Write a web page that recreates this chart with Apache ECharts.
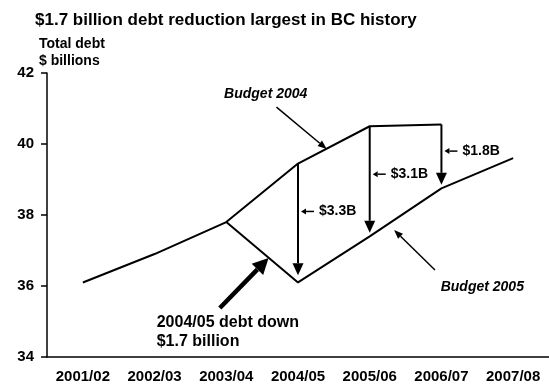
<!DOCTYPE html>
<html>
<head>
    <meta charset="utf-8">
    <title>BC debt</title>
    <script src="https://cdn.jsdelivr.net/npm/echarts@6/dist/echarts.min.js"></script>
    <style>
        html, body { margin: 0; padding: 0; background: #fff; }
        #chart1 { width: 549px; height: 384px; }
    </style>
</head>
<body>
<div id="chart1"></div>
<script type="text/javascript">
    // categories and the two budget forecasts ($ billions)
    var categories = ['2001/02', '2002/03', '2003/04', '2004/05', '2005/06', '2006/07', '2007/08'];
    var budget2005 = [36.1, 36.9, 37.8, 36.1, 37.4, 38.75, 39.6];
    var budget2004 = [null, null, 37.8, 39.45, 40.5, 40.55, null];

    // gaps between the forecasts
    var gapCats = [3, 4, 5];
    var gapLabels = ['$3.3B', '$3.1B', '$1.8B'];
    var gapArrowEnd = [36.3, 37.5, 38.85];
    var gapLabelAt = [38.1, 39.15, 39.8];

    // callouts, in (category index, value) units
    var calloutText = ['Budget 2004', 'Budget 2005', '2004/05 debt down\n$1.7 billion'];
    var calloutTextAt = [[2.55, 41.4], [5.57, 35.97], [1.03, 34.7]];
    var calloutFrom = [[2.70, 41.04], [4.91, 36.45], [1.91, 35.38]];
    var calloutTo = [[3.40, 39.86], [4.34, 37.58], [2.59, 36.79]];

    var FONT = '"Liberation Sans", Arial, sans-serif';

    // pixel point for a (possibly fractional) category index
    function pt(api, x, v) {
        var i = Math.min(Math.max(Math.floor(x), 0), categories.length - 2);
        var a = api.coord([i, v]), b = api.coord([i + 1, v]);
        return [a[0] + (b[0] - a[0]) * (x - i), a[1]];
    }

    function arrow(p0, p1, lw, head, hw) {
        var dx = p1[0] - p0[0], dy = p1[1] - p0[1];
        var len = Math.sqrt(dx * dx + dy * dy);
        var ux = dx / len, uy = dy / len;
        var bx = p1[0] - ux * head, by = p1[1] - uy * head;
        var nx = -uy, ny = ux;
        return [
            {type: 'line', shape: {x1: p0[0], y1: p0[1], x2: bx, y2: by},
                style: {stroke: '#000', lineWidth: lw}},
            {type: 'polygon', shape: {points: [[p1[0], p1[1]], [bx + nx * hw, by + ny * hw], [bx - nx * hw, by - ny * hw]]},
                style: {fill: '#000'}}
        ];
    }

    var myChart1 = echarts.init(document.getElementById('chart1'));
    myChart1.setOption({
        animation: false,
        backgroundColor: '#fff',
        title: [{
            text: '$1.7 billion debt reduction largest in BC history',
            left: 30, top: 7,
            textStyle: {fontFamily: FONT, fontSize: 17, fontWeight: 'bold', color: '#000'}
        }, {
            text: 'Total debt\n$ billions',
            left: 34, top: 31,
            textStyle: {fontFamily: FONT, fontSize: 14, fontWeight: 'bold', color: '#000', lineHeight: 17}
        }],
        grid: {left: 47, right: 0, top: 73, bottom: 27},
        xAxis: {
            type: 'category',
            data: categories,
            axisLine: {lineStyle: {color: '#000', width: 1.5}},
            axisTick: {show: false},
            axisLabel: {fontFamily: FONT, fontSize: 15, fontWeight: 'bold', color: '#000', margin: 12}
        },
        yAxis: {
            type: 'value',
            min: 34, max: 42, interval: 2,
            axisLine: {show: true, lineStyle: {color: '#000', width: 1.5}},
            axisTick: {show: true, length: 6, lineStyle: {color: '#000', width: 1.5}},
            splitLine: {show: false},
            axisLabel: {fontFamily: FONT, fontSize: 15, fontWeight: 'bold', color: '#000', margin: 13}
        },
        series: [{
            name: 'Budget 2005',
            type: 'line',
            data: budget2005,
            symbol: 'none',
            lineStyle: {color: '#000', width: 2}
        }, {
            name: 'Budget 2004',
            type: 'line',
            data: budget2004,
            symbol: 'none',
            lineStyle: {color: '#000', width: 2}
        }, {
            name: 'gaps',
            type: 'custom',
            data: gapCats.map(function (c, i) { return [c, budget2004[c], gapArrowEnd[i], gapLabelAt[i]]; }),
            encode: {x: 0, y: [1, 2, 3]},
            renderItem: function (params, api) {
                var c = api.value(0);
                var top = api.coord([c, api.value(1)]);
                var end = api.coord([c, api.value(2)]);
                var lab = api.coord([c, api.value(3)]);
                var kids = arrow(top, end, 2, 12, 5.5)
                    .concat(arrow([lab[0] + 16, lab[1]], [lab[0] + 3, lab[1]], 1.5, 5, 3));
                kids.push({
                    type: 'text',
                    style: {x: lab[0] + 21, y: lab[1], text: gapLabels[params.dataIndex],
                        fill: '#000', font: 'bold 14px ' + FONT, align: 'left', verticalAlign: 'middle'}
                });
                return {type: 'group', children: kids};
            }
        }, {
            name: 'callouts',
            type: 'custom',
            data: calloutText.map(function (t, i) { return [Math.round(calloutFrom[i][0]), calloutFrom[i][1]]; }),
            encode: {x: 0, y: 1},
            renderItem: function (params, api) {
                var i = params.dataIndex;
                var p0 = pt(api, calloutFrom[i][0], calloutFrom[i][1]);
                var p1 = pt(api, calloutTo[i][0], calloutTo[i][1]);
                var tp = pt(api, calloutTextAt[i][0], calloutTextAt[i][1]);
                var big = i === 2;
                var kids = big ? arrow(p0, p1, 4.5, 16, 8) : arrow(p0, p1, 1.5, 9, 3.5);
                kids.push({
                    type: 'text',
                    style: {
                        x: tp[0], y: tp[1], text: calloutText[i], fill: '#000',
                        font: (big ? 'bold 16px ' : 'italic bold 14px ') + FONT,
                        align: big ? 'left' : 'center', verticalAlign: 'middle',
                        lineHeight: 19
                    }
                });
                return {type: 'group', children: kids};
            }
        }]
    });
</script>
</body>
</html>
